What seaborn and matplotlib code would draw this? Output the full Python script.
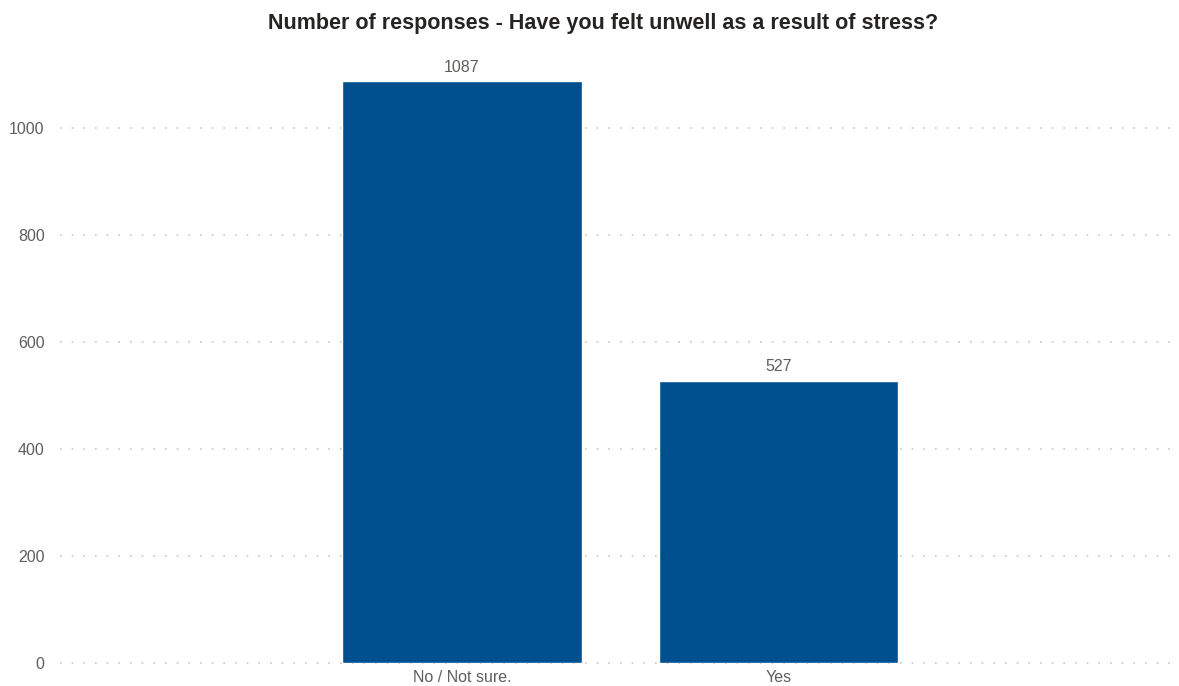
import matplotlib
matplotlib.use("Agg")
import matplotlib.pyplot as plt
import seaborn as sns
import pandas as pd

categories = ["No / Not sure.", "Yes"]
values = [1087, 527]
title = "Number of responses - Have you felt unwell as a result of stress?"
yticks = [0, 200, 400, 600, 800, 1000]

sns.set_style("white")
plt.rcParams['font.family'] = ['Liberation Sans', 'DejaVu Sans']

df = pd.DataFrame({"cat": categories, "val": values})

fig = plt.figure(figsize=(11.79, 6.86), dpi=100)
ax = fig.add_axes([60/1179, 1-663/686, (1174-60)/1179, (663-74.5)/686])
sns.barplot(data=df, x="cat", y="val", color="#00508f", width=0.756, ax=ax,
            saturation=1, zorder=3)
ax.set_xlim(-1.27, 2.25)
ax.set_ylim(0, 1100)
ax.set_yticks(yticks)
ax.set_xlabel("")
ax.set_ylabel("")
for s in ax.spines.values():
    s.set_visible(False)
ax.grid(axis="y", linestyle=(0, (1, 6)), color="#c8c8c8", linewidth=1.2, zorder=0)
for gl in ax.get_ygridlines():
    gl.set_clip_on(False)
ax.tick_params(axis="both", length=0, labelsize=11.5, labelcolor="#605e5c")
ax.tick_params(axis="y", pad=11)
ax.tick_params(axis="x", pad=5)
for c in ax.containers:
    ax.bar_label(c, padding=5, fontsize=11.5, color="#605e5c")
fig.text(603/1179, 1-24/686, title, ha="center", va="center", fontsize=15.5,
         fontweight="bold", color="#252423")
fig.savefig("out.png", dpi=100)
